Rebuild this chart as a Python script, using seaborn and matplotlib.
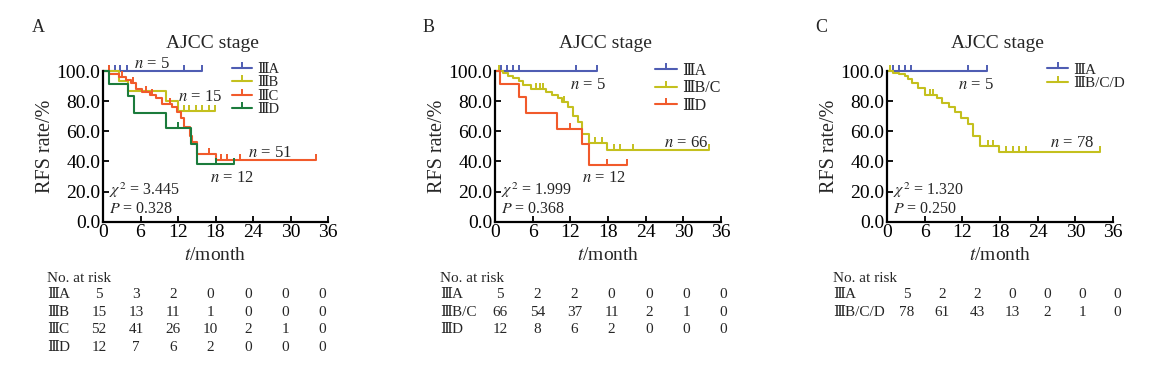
import numpy as np
import pandas as pd
import matplotlib
matplotlib.use("Agg")
import matplotlib.pyplot as plt
from matplotlib.lines import Line2D
import seaborn as sns

# ---- data ----
ytick_vals = [0, 20, 40, 60, 80, 100]
xtick_vals = [0, 6, 12, 18, 24, 30, 36]

# panel A
a_labels = ["\u2162A", "\u2162B", "\u2162C", "\u2162D"]
a_IIIA_t = [];  a_IIIA_s = []
a_IIIA_c = [0.9, 1.85, 2.75, 3.85, 12.9, 15.9]
a_IIIB_t = [2.6, 4.0, 10.0, 12.0]
a_IIIB_s = [93.3, 86.7, 80.0, 73.3]
a_IIIB_c = [12.9, 13.8, 14.8, 15.8, 16.9, 17.9]
a_IIIC_t = [1.0, 2.5, 3.7, 4.5, 5.2, 6.2, 7.5, 8.5, 9.5, 11.0, 11.9, 12.4, 13.0, 13.9, 14.2, 15.0, 18.0]
a_IIIC_s = [98.1, 96.2, 94.2, 92.2, 88.3, 86.3, 84.3, 82.3, 78.4, 76.4, 72.5, 68.6, 62.7, 56.8, 52.9, 45.1, 41.0]
a_IIIC_c = [0.9, 3.0, 4.8, 6.8, 7.9, 10.7, 16.9, 18.9, 19.8, 21.9, 34.0]
a_IIID_t = [1.0, 4.0, 5.0, 10.0, 14.0, 15.0]
a_IIID_s = [91.7, 83.3, 72.2, 61.9, 51.6, 38.0]
a_IIID_c = [12.0, 18.0, 21.0]
a_risk = [[5, 3, 2, 0, 0, 0, 0],
          [15, 13, 11, 1, 0, 0, 0],
          [52, 41, 26, 10, 2, 1, 0],
          [12, 7, 6, 2, 0, 0, 0]]
a_stats = ["3.445", "0.328"]

# panel B
b_labels = ["\u2162A", "\u2162B/C", "\u2162D"]
b_IIIA_t = [];  b_IIIA_s = []
b_IIIA_c = [0.9, 1.9, 2.9, 3.8, 12.9, 16.2]
b_IIIBC_t = [1.2, 2.0, 2.9, 3.9, 4.5, 5.8, 8.2, 9.0, 10.0, 10.6, 11.7, 12.4, 13.2, 13.9, 14.9, 17.9]
b_IIIBC_s = [98.5, 97.0, 95.5, 93.3, 91.0, 88.0, 86.0, 84.0, 81.8, 79.5, 76.0, 70.0, 66.0, 58.5, 52.5, 47.5]
b_IIIBC_c = [0.6, 6.6, 7.1, 7.7, 11.0, 15.9, 17.0, 18.9, 19.9, 22.0, 34.1]
b_IIID_t = [0.8, 3.8, 4.9, 9.9, 13.9, 14.9]
b_IIID_s = [91.7, 82.8, 72.2, 61.8, 51.5, 37.5]
b_IIID_c = [11.9, 17.9, 21.0]
b_risk = [[5, 2, 2, 0, 0, 0, 0],
          [66, 54, 37, 11, 2, 1, 0],
          [12, 8, 6, 2, 0, 0, 0]]
b_stats = ["1.999", "0.368"]

# panel C
c_labels = ["\u2162A", "\u2162B/C/D"]
c_IIIA_t = [];  c_IIIA_s = []
c_IIIA_c = [0.9, 1.9, 2.9, 3.8, 12.9, 16.0]
c_IIIBCD_t = [0.95, 1.9, 2.8, 3.3, 4.0, 4.9, 6.0, 7.9, 8.8, 9.9, 10.8, 11.8, 12.9, 13.7, 14.8, 17.8]
c_IIIBCD_s = [99.0, 98.0, 96.5, 95.0, 92.0, 89.0, 84.0, 82.0, 79.0, 76.0, 73.0, 69.0, 65.0, 57.0, 50.5, 46.5]
c_IIIBCD_c = [0.5, 6.8, 7.3, 16.1, 16.9, 19.0, 20.0, 21.0, 22.1, 34.0]
c_risk = [[5, 2, 2, 0, 0, 0, 0],
          [78, 61, 43, 13, 2, 1, 0]]
c_stats = ["1.320", "0.250"]

# ---- style ----
BLUE = "#4f5db3"
YELLOW = "#c4c01e"
RED = "#f15a2b"
GREEN = "#1b7b3c"

sns.set_theme(style="ticks")
plt.rcParams["font.family"] = ["Liberation Serif", "DejaVu Serif", "Noto Sans CJK SC"]
plt.rcParams["mathtext.fontset"] = "stix"

TICK = [(0, 0), (0, 1)]  # upward censor tick


def km_frame(t, s, c):
    end = max(c + t)
    x = [0] + list(t) + [end]
    y = [100] + list(s) + [s[-1] if s else 100]
    return pd.DataFrame({"t": x, "s": y})


def censor_y(t, s, c):
    tt = np.array([0] + list(t))
    ss = np.array([100] + list(s))
    idx = np.searchsorted(tt, np.array(c), side="right") - 1
    return ss[idx]


fig = plt.figure(figsize=(11.72, 3.70), dpi=100)
W, H = 1172, 370


def fx(px):
    return px / W


def fy(py):
    return 1 - py / H


panels = [
    dict(letter="A", left=103, right=328, letter_x=32,
         curves=[(a_IIIA_t, a_IIIA_s, a_IIIA_c, BLUE), (a_IIIB_t, a_IIIB_s, a_IIIB_c, YELLOW),
                 (a_IIIC_t, a_IIIC_s, a_IIIC_c, RED), (a_IIID_t, a_IIID_s, a_IIID_c, GREEN)],
         labels=a_labels, risk=a_risk, stats=a_stats,
         ntext=[("5", 7.8, 104.5), ("15", 15.5, 83), ("51", 26.7, 45.5), ("12", 20.6, 29)],
         leg=(232, 63, 0.0, 10.5), tab_lab_x=47, tab_x0=99, tab_dx=37.2),
    dict(letter="B", left=495, right=721, letter_x=423,
         curves=[(b_IIIA_t, b_IIIA_s, b_IIIA_c, BLUE), (b_IIIBC_t, b_IIIBC_s, b_IIIBC_c, YELLOW),
                 (b_IIID_t, b_IIID_s, b_IIID_c, RED)],
         labels=b_labels, risk=b_risk, stats=b_stats,
         ntext=[("5", 14.8, 91), ("66", 30.5, 52), ("12", 17.3, 29)],
         leg=(655, 63, 0.08, 11.5), tab_lab_x=440, tab_x0=500, tab_dx=37.2),
    dict(letter="C", left=887, right=1113, letter_x=815,
         curves=[(c_IIIA_t, c_IIIA_s, c_IIIA_c, BLUE), (c_IIIBCD_t, c_IIIBCD_s, c_IIIBCD_c, YELLOW)],
         labels=c_labels, risk=c_risk, stats=c_stats,
         ntext=[("5", 14.1, 91), ("78", 29.5, 52)],
         leg=(1047, 63, 0.0, 11.0), tab_lab_x=833, tab_x0=907, tab_dx=35.0),
]

for p in panels:
    ax = fig.add_axes([fx(p["left"]), fy(221.7), fx(p["right"] - p["left"]), 150.7 / H])
    handles = []
    for (t, s, c, col), lab in zip(p["curves"], p["labels"]):
        df = km_frame(t, s, c)
        sns.lineplot(data=df, x="t", y="s", ax=ax, color=col, lw=1.5,
                     drawstyle="steps-post", estimator=None, sort=False, clip_on=False)
        ax.plot(c, censor_y(t, s, c), ls="none", marker=TICK, ms=9, mew=1.4,
                color=col, clip_on=False)
        handles.append(Line2D([], [], color=col, lw=1.5, marker=TICK, ms=9, mew=1.4))

    ax.set_xlim(0, 36)
    ax.set_ylim(0, 100)
    ax.set_xticks(xtick_vals)
    ax.set_yticks(ytick_vals)
    ax.set_yticklabels([f"{v:.1f}" for v in ytick_vals])
    ax.tick_params(direction="in", length=4, width=1.3, labelsize=14, pad=2, colors="black")
    for sp in ["top", "right"]:
        ax.spines[sp].set_visible(False)
    for sp in ["left", "bottom"]:
        ax.spines[sp].set_linewidth(1.6)
        ax.spines[sp].set_color("black")
    ax.set_xlabel("")
    ax.set_ylabel("RFS rate/%", fontsize=14.5, labelpad=1)

    for txt, xv, yv in p["ntext"]:
        ax.text(xv, yv, f"$n$ = {txt}", fontsize=12, ha="center", va="center")
    ax.text(1.0, 21, f"$\\chi^2$ = {p['stats'][0]}", fontsize=11.5, ha="left", va="center")
    ax.text(1.0, 8.5, f"$P$ = {p['stats'][1]}", fontsize=11.5, ha="left", va="center")

    lx, ly, lsp, lfs = p["leg"]
    ax.legend(handles, p["labels"], loc="upper left", bbox_to_anchor=(fx(lx), fy(ly)),
              bbox_transform=fig.transFigure, frameon=False, fontsize=lfs, numpoints=1,
              handlelength=1.4, handletextpad=0.3, labelspacing=lsp, borderpad=0,
              borderaxespad=0)

    # titles and labels
    mid = (p["left"] + p["right"]) / 2
    fig.text(fx(p["letter_x"]), fy(28), p["letter"], fontsize=13, ha="left", va="center")
    fig.text(fx(mid - 3), fy(43), "AJCC stage", fontsize=14, ha="center", va="center")
    fig.text(fx(mid), fy(256), "$t$/month", fontsize=14, ha="center", va="center")

    # number at risk table
    fig.text(fx(p["tab_lab_x"]), fy(279), "No. at risk", fontsize=11, ha="left", va="center")
    for i, (lab, row) in enumerate(zip(p["labels"], p["risk"])):
        yy = fy(295 + 17.4 * i)
        fig.text(fx(p["tab_lab_x"]), yy, lab, fontsize=11, ha="left", va="center")
        for j, v in enumerate(row):
            fig.text(fx(p["tab_x0"] + p["tab_dx"] * j), yy, str(v), fontsize=11,
                     ha="center", va="center")

fig.savefig("out.png", dpi=100)
